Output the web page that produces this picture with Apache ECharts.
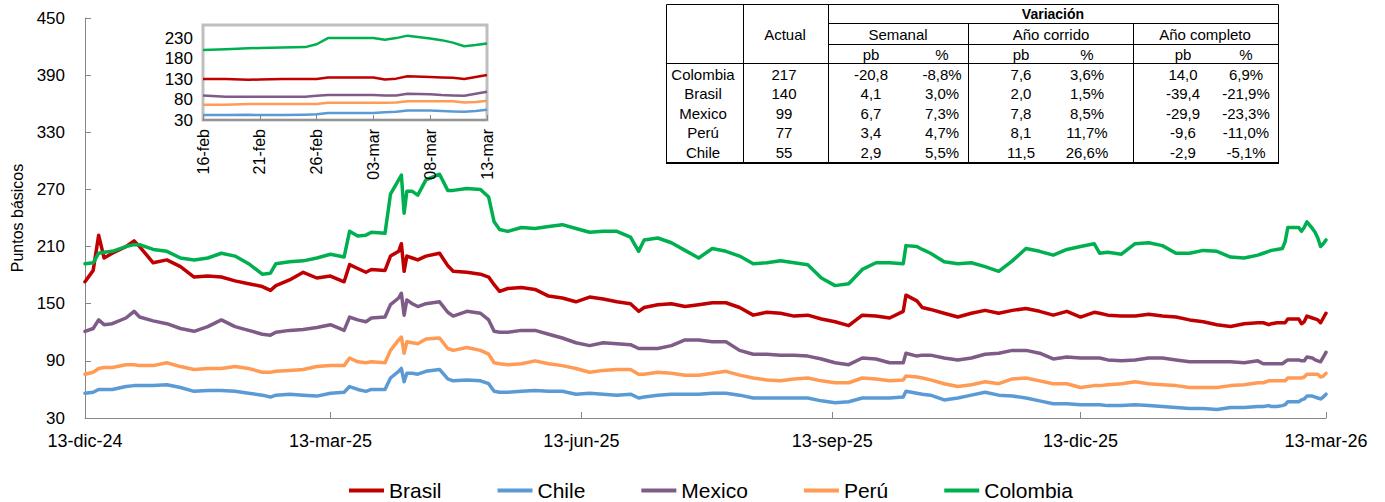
<!DOCTYPE html>
<html>
<head>
<meta charset="utf-8">
<script src="https://cdn.jsdelivr.net/npm/echarts@6/dist/echarts.min.js"></script>
<style>
  html, body { margin: 0; padding: 0; background: #ffffff; }
  #chart { width: 1385px; height: 502px; }
</style>
</head>
<body>
<div id="chart"></div>
<script>
// fechas de observación (calendario)
const dates = [
  '2024-12-13','2024-12-16','2024-12-18','2024-12-20','2024-12-23','2024-12-28','2024-12-31','2025-01-02','2025-01-07','2025-01-12',
  '2025-01-17','2025-01-22','2025-01-27','2025-02-01','2025-02-06','2025-02-11','2025-02-16','2025-02-19','2025-02-21','2025-02-26',
  '2025-03-03','2025-03-08','2025-03-13','2025-03-18','2025-03-20','2025-03-23','2025-03-26','2025-03-28','2025-04-02','2025-04-04',
  '2025-04-07','2025-04-08','2025-04-09','2025-04-10','2025-04-12','2025-04-14','2025-04-17','2025-04-22','2025-04-25','2025-04-27',
  '2025-05-02','2025-05-07','2025-05-10','2025-05-12','2025-05-14','2025-05-17','2025-05-22','2025-05-27','2025-06-01','2025-06-06',
  '2025-06-11','2025-06-16','2025-06-21','2025-06-26','2025-07-01','2025-07-04','2025-07-06','2025-07-11','2025-07-16','2025-07-21',
  '2025-07-26','2025-07-31','2025-08-05','2025-08-10','2025-08-15','2025-08-20','2025-08-25','2025-08-30','2025-09-04','2025-09-09',
  '2025-09-14','2025-09-19','2025-09-24','2025-09-29','2025-10-04','2025-10-09','2025-10-10','2025-10-14','2025-10-16','2025-10-19',
  '2025-10-24','2025-10-29','2025-11-03','2025-11-08','2025-11-13','2025-11-18','2025-11-23','2025-11-28','2025-12-03','2025-12-08',
  '2025-12-13','2025-12-18','2025-12-20','2025-12-23','2025-12-28','2026-01-02','2026-01-07','2026-01-12','2026-01-17','2026-01-22',
  '2026-01-27','2026-02-01','2026-02-06','2026-02-11','2026-02-16','2026-02-18','2026-02-20','2026-02-21','2026-02-23','2026-02-25',
  '2026-02-26','2026-02-27','2026-03-01','2026-03-03','2026-03-04','2026-03-05','2026-03-06','2026-03-08','2026-03-09','2026-03-10',
  '2026-03-11','2026-03-12','2026-03-13'
];

const brasil = [
  173,185,222,198,203,210,216,210,193,196,
  189,178,179,178,174,171,168,164,169,175,
  183,177,179,173,191,187,183,186,185,200,
  205,213,184,200,198,196,200,203,190,184,
  183,181,178,170,163,166,167,165,158,156,
  152,157,155,152,150,142,146,149,150,147,
  149,151,151,146,138,141,140,137,138,134,
  131,127,138,137,135,142,159,153,146,144,
  140,136,140,143,140,143,145,142,138,142,
  136,141,140,138,137,137,139,137,136,133,
  131,128,126,129,130,130,128,129,130,130,
  130,134,134,134,129,131,137,135,134,133,
  130,135,140
];
const chile = [
  56,57,60,60,60,63,64,64,64,65,
  62,58,59,59,58,56,54,52,54,55,
  54,53,56,57,63,60,58,60,60,72,
  79,82,68,77,77,76,79,81,71,69,
  70,69,66,58,57,57,58,59,58,58,
  55,56,55,54,55,51,52,54,55,55,
  55,56,56,54,51,51,51,51,51,48,
  46,47,51,51,51,52,58,56,55,54,
  49,51,54,57,54,53,51,48,45,45,
  44,44,44,43,43,44,43,42,41,40,
  40,39,41,41,42,42,43,42,42,43,
  44,47,47,47,49,50,53,53,52,51,
  50,52,55
];
const mexico = [
  121,124,133,128,129,135,142,136,132,129,
  124,121,126,133,126,122,118,117,120,122,
  123,125,128,122,136,133,131,135,136,149,
  156,161,138,154,150,147,150,152,141,137,
  142,140,133,121,120,120,122,122,118,114,
  109,106,109,108,107,103,103,103,106,112,
  112,110,110,101,97,97,96,96,95,92,
  88,86,93,92,88,88,98,95,96,96,
  93,91,93,97,98,101,101,98,92,94,
  93,93,93,91,90,91,93,93,91,89,
  89,89,89,88,90,87,87,87,87,87,
  89,91,91,91,90,90,94,93,91,90,
  89,94,99
];
const peru = [
  76,78,82,83,83,86,86,85,85,88,
  84,81,82,82,84,82,78,78,79,80,
  81,84,85,85,93,89,88,89,88,101,
  112,115,98,110,109,108,113,114,103,101,
  104,101,97,88,87,86,87,90,87,85,
  82,78,80,81,81,76,76,78,77,75,
  75,77,79,75,72,70,69,71,72,69,
  67,67,72,71,69,70,74,73,72,70,
  66,63,65,68,66,71,72,69,66,66,
  62,64,64,65,66,68,66,65,64,62,
  62,62,64,65,67,67,69,69,69,69,
  69,72,72,72,72,73,76,76,76,76,
  73,74,77
];
const colombia = [
  192,193,203,204,205,210,212,212,207,205,
  198,196,198,203,200,192,181,182,192,194,
  195,198,202,199,226,221,222,225,224,265,
  280,285,245,268,268,264,280,286,269,269,
  271,270,262,236,228,226,230,229,231,233,
  229,225,226,226,220,205,217,219,214,206,
  198,208,205,200,192,193,195,193,191,177,
  169,171,186,193,193,192,211,210,207,203,
  194,192,193,189,184,195,208,205,201,207,
  210,213,203,204,202,213,214,211,203,203,
  206,205,199,198,201,203,205,206,207,208,
  215,230,230,230,226,230,236,229,225,219,
  210,213,217
];

const seriesNames = ['Brasil', 'Chile', 'Mexico', 'Perú', 'Colombia'];
const seriesValues = [brasil, chile, mexico, peru, colombia];
const seriesColors = ['#C00000', '#5B9BD5', '#7E5C87', '#FF9B55', '#00B050'];

// ejes
const xTickDates = ['2024-12-13', '2025-03-13', '2025-06-13', '2025-09-13', '2025-12-13', '2026-03-13'];
const xTickLabels = ['13-dic-24', '13-mar-25', '13-jun-25', '13-sep-25', '13-dic-25', '13-mar-26'];
const insetTickDates = ['2026-02-16', '2026-02-21', '2026-02-26', '2026-03-03', '2026-03-08', '2026-03-13'];
const insetTickLabels = ['16-feb', '21-feb', '26-feb', '03-mar', '08-mar', '13-mar'];

// tabla de variación
const tableCountries = ['Colombia', 'Brasil', 'Mexico', 'Perú', 'Chile'];
const tableActual = ['217', '140', '99', '77', '55'];
const semanalPb = ['-20,8', '4,1', '6,7', '3,4', '2,9'];
const semanalPct = ['-8,8%', '3,0%', '7,3%', '4,7%', '5,5%'];
const corridoPb = ['7,6', '2,0', '7,8', '8,1', '11,5'];
const corridoPct = ['3,6%', '1,5%', '8,5%', '11,7%', '26,6%'];
const completoPb = ['14,0', '-39,4', '-29,9', '-9,6', '-2,9'];
const completoPct = ['6,9%', '-21,9%', '-23,3%', '-11,0%', '-5,1%'];

const FONT = 'Liberation Sans, Arial, sans-serif';

const toTs = (s) => {
  const p = s.split('-').map(Number);
  return Date.UTC(p[0], p[1] - 1, p[2]);
};
const pairs = (vals) => dates.map((d, i) => [toTs(d), vals[i]]);
const insetStart = toTs(insetTickDates[0]);

const labelFor = (ticks, labels) => (value) => {
  const i = ticks.findIndex(t => Math.abs(toTs(t) - value) < 3600000);
  return i >= 0 ? labels[i] : '';
};

// tabla como elementos gráficos
const buildTable = () => {
  const els = [];
  const line = (x1, y1, x2, y2, w) => els.push({
    type: 'line', silent: true,
    shape: { x1: x1, y1: y1, x2: x2, y2: y2 },
    style: { stroke: '#000', lineWidth: w || 1 }
  });
  const text = (t, x, y, bold) => els.push({
    type: 'text', silent: true,
    style: {
      text: t, x: x, y: y, fill: '#000',
      font: (bold ? 'bold 14px ' : '15px ') + FONT,
      align: 'center', verticalAlign: 'middle'
    }
  });
  const L = 666.5, R = 1278.5, T = 4.5, B = 163;
  line(L, T, R, T);
  line(L, T, L, B);
  line(R, T, R, B);
  line(743.5, T, 743.5, B);
  line(828.5, T, 828.5, B);
  line(968.5, 23.5, 968.5, B);
  line(1133.5, 23.5, 1133.5, B);
  line(828.5, 23.5, R, 23.5);
  line(828.5, 44.5, R, 44.5);
  line(L, 63.5, R, 63.5);
  line(L - 0.5, B, R + 0.5, B, 2);

  text('Variación', 1053, 14, true);
  text('Actual', 785, 34);
  text('Semanal', 898, 34);
  text('Año corrido', 1051, 34);
  text('Año completo', 1205, 34);
  const pbX = [871, 1021, 1183];
  const pctX = [942, 1087, 1246];
  pbX.forEach(x => text('pb', x, 54));
  pctX.forEach(x => text('%', x, 54));

  const cols = [semanalPb, semanalPct, corridoPb, corridoPct, completoPb, completoPct];
  const colX = [pbX[0], pctX[0], pbX[1], pctX[1], pbX[2], pctX[2]];
  tableCountries.forEach((c, r) => {
    const y = 74 + r * 19.6;
    text(c, 703, y);
    text(tableActual[r], 784, y);
    cols.forEach((col, k) => text(col[r], colX[k], y));
  });
  return els;
};

const mainSeries = seriesNames.map((name, i) => ({
  name: name,
  type: 'line',
  xAxisIndex: 0,
  yAxisIndex: 0,
  data: pairs(seriesValues[i]),
  showSymbol: false,
  lineStyle: { color: seriesColors[i], width: 3.5, join: 'round', cap: 'round' },
  itemStyle: { color: seriesColors[i] },
  animation: false
}));

const insetSeries = seriesNames.map((name, i) => ({
  name: name,
  type: 'line',
  xAxisIndex: 1,
  yAxisIndex: 1,
  data: pairs(seriesValues[i]).filter(p => p[0] >= insetStart),
  showSymbol: false,
  lineStyle: { color: seriesColors[i], width: 2.5, join: 'round' },
  itemStyle: { color: seriesColors[i] },
  z: 5,
  animation: false
}));

const myChart = echarts.init(document.getElementById('chart'), null, { renderer: 'svg' });

const option = {
  backgroundColor: '#ffffff',
  animation: false,
  textStyle: { fontFamily: FONT },
  legend: {
    data: seriesNames,
    left: 344,
    top: 475,
    icon: 'rect',
    itemWidth: 35,
    itemHeight: 4,
    itemGap: 56,
    textStyle: { color: '#000', fontSize: 21, fontFamily: FONT, lineHeight: 21 }
  },
  grid: [
    { left: 85, right: 59, top: 18, bottom: 84, containLabel: false, outerBoundsMode: 'none' },
    {
      left: 203, top: 25, width: 284, height: 95, containLabel: false, outerBoundsMode: 'none',
      show: true, backgroundColor: '#ffffff', borderColor: '#bfbfbf', borderWidth: 3, z: 4
    }
  ],
  xAxis: [
    {
      type: 'value',
      gridIndex: 0,
      min: toTs(xTickDates[0]),
      max: toTs(xTickDates[xTickDates.length - 1]),
      axisLine: { lineStyle: { color: '#868686', width: 1 } },
      axisTick: { show: true, inside: true, length: 6, lineStyle: { color: '#868686' },
        customValues: xTickDates.map(toTs) },
      axisLabel: {
        customValues: xTickDates.map(toTs),
        formatter: labelFor(xTickDates, xTickLabels),
        color: '#000', fontSize: 18, fontFamily: FONT, margin: 14,
        showMinLabel: true, showMaxLabel: true, hideOverlap: false
      },
      splitLine: { show: false }
    },
    {
      type: 'value',
      gridIndex: 1,
      min: toTs(insetTickDates[0]),
      max: toTs(insetTickDates[insetTickDates.length - 1]),
      axisLine: { lineStyle: { color: '#868686', width: 1.5 } },
      axisTick: { show: true, inside: true, length: 5, lineStyle: { color: '#868686' },
        customValues: insetTickDates.map(toTs) },
      axisLabel: {
        customValues: insetTickDates.map(toTs),
        formatter: labelFor(insetTickDates, insetTickLabels),
        rotate: 90, color: '#000', fontSize: 16, fontFamily: FONT, margin: 9,
        showMinLabel: true, showMaxLabel: true, hideOverlap: false
      },
      splitLine: { show: false },
      z: 6
    }
  ],
  yAxis: [
    {
      type: 'value',
      gridIndex: 0,
      min: 30,
      max: 450,
      interval: 60,
      name: 'Puntos básicos',
      nameLocation: 'middle',
      nameGap: 60,
      nameTextStyle: { color: '#000', fontSize: 16, fontFamily: FONT },
      axisLine: { show: true, lineStyle: { color: '#868686', width: 1 } },
      axisTick: { show: true, inside: true, length: 6, lineStyle: { color: '#868686' } },
      axisLabel: { color: '#000', fontSize: 17, fontFamily: FONT, margin: 20 },
      splitLine: { show: false }
    },
    {
      type: 'value',
      gridIndex: 1,
      min: 30,
      max: 262,
      interval: 50,
      axisLine: { show: false },
      axisTick: { show: false },
      axisLabel: { color: '#000', fontSize: 17, fontFamily: FONT, margin: 10, showMaxLabel: false },
      splitLine: { show: false },
      z: 6
    }
  ],
  graphic: buildTable(),
  series: mainSeries.concat(insetSeries)
};

myChart.setOption(option);

window.addEventListener('resize', () => {
  myChart.resize();
});
</script>
</body>
</html>
